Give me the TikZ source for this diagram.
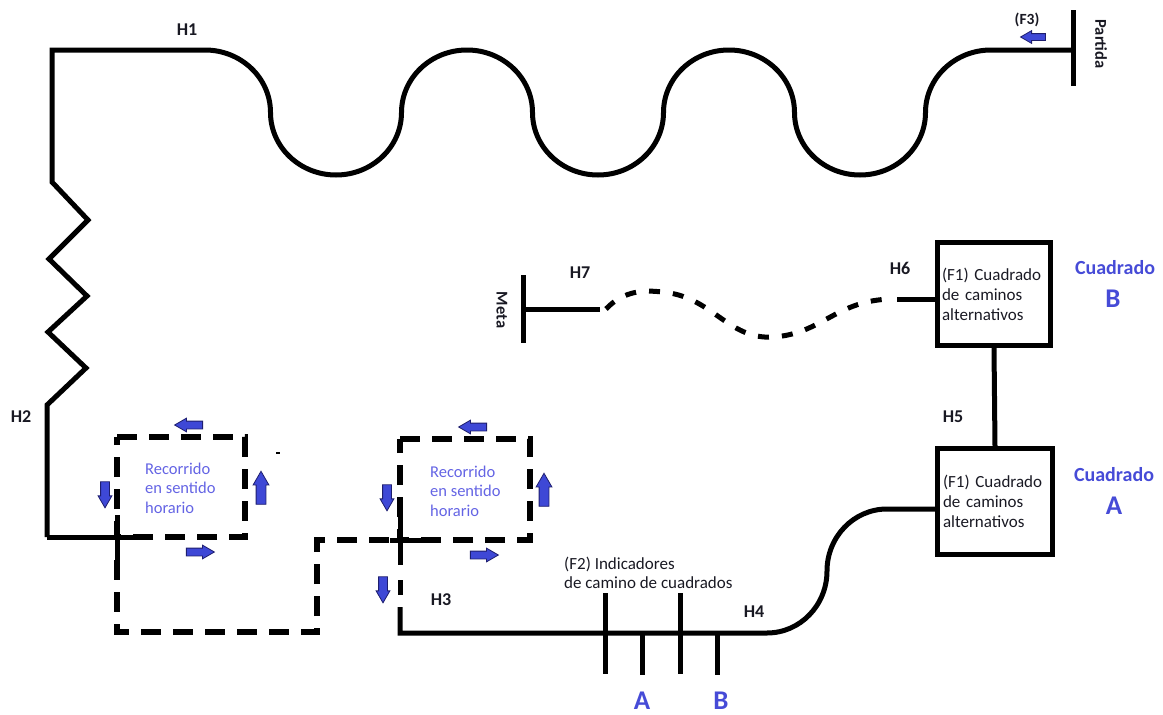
\documentclass[tikz,border=0pt]{standalone}
\usepackage{fontspec}
\setmainfont{Carlito}
\usetikzlibrary{shapes.arrows}
\definecolor{arrfill}{RGB}{62,72,214}
\definecolor{arredge}{RGB}{30,30,110}
\definecolor{bluetxt}{RGB}{100,100,228}
\definecolor{bluelbl}{RGB}{70,75,215}
\definecolor{darktxt}{RGB}{25,25,35}
\begin{document}
\begin{tikzpicture}[x=1pt,y=-1pt,
  road/.style={line width=5pt, line join=miter},
  dashroad/.style={line width=5.5pt, dash pattern=on 20pt off 12pt},
  wavedash/.style={line width=5pt, dash pattern=on 11pt off 13pt},
  hlabel/.style={font=\fontsize{18}{20}\selectfont\bfseries, text=darktxt, inner sep=0pt},
  vlabel/.style={font=\fontsize{16.5}{19}\selectfont\bfseries, text=darktxt, inner sep=0pt, rotate=-90},
  desc/.style={font=\fontsize{17}{19.5}\selectfont, text=darktxt, inner sep=0pt, align=left},
  rec/.style={font=\fontsize{16.5}{19.5}\selectfont, text=bluetxt, inner sep=0pt, align=left, anchor=west},
  cuad/.style={font=\fontsize{20}{22}\selectfont\bfseries, text=bluelbl, inner sep=0pt},
  biglet/.style={font=\fontsize{27}{30}\selectfont\bfseries, text=bluelbl, inner sep=0pt},
  box/.style={draw, line width=5pt, inner sep=0pt, text width=104pt, align=left,
    font=\fontsize{17}{20}\selectfont, text=darktxt},
  blk/.style={single arrow, draw=arredge, fill=arrfill, line width=0.8pt,
    minimum height=28pt, inner xsep=0pt, inner ysep=3.5pt,
    single arrow head extend=3pt, single arrow head indent=0pt,
    single arrow tip angle=60},
  blkup/.style={blk, minimum height=33pt, inner ysep=4.5pt, single arrow head extend=3pt, rotate=90},
  blkdown/.style={blk, minimum height=26pt, inner ysep=4pt, single arrow head extend=2.5pt, rotate=-90},
  blkleft/.style={blk, rotate=180},
  blkright/.style={blk}
]
\useasboundingbox (0,0) rectangle (1163,715);

% boxes
\node[box, minimum width=113pt, minimum height=103pt] (boxB) at (994,294)
  {(F1) Cuadrado\\de caminos\\alternativos};
\node[box, minimum width=115pt, minimum height=106pt] (boxA) at (995,501.5)
  {(F1) Cuadrado\\de caminos\\alternativos};

% start T (Partida)
\coordinate (pTop) at (1073,10);
\coordinate (pBot) at (1073,86);
\coordinate (pMid) at (1073,50);
\draw[road] (pTop) -- (pBot);

% main road: H2 zigzag + H1 waves
\coordinate (c0) at (47,537);
\draw[road] (c0) -- (47,405) -- (86,368) -- (48,332) -- (87,296) -- (49,259)
  -- (88,220) -- (52,182) -- (52,50) -- (205,50)
  arc[start angle=90,end angle=0,x radius=65.5pt,y radius=62.5pt]
  arc[start angle=180,end angle=360,x radius=65.5pt,y radius=62.5pt]
  arc[start angle=180,end angle=0,x radius=65.5pt,y radius=62.5pt]
  arc[start angle=180,end angle=360,x radius=65.5pt,y radius=62.5pt]
  arc[start angle=180,end angle=0,x radius=65.5pt,y radius=62.5pt]
  arc[start angle=180,end angle=360,x radius=65.5pt,y radius=62.5pt]
  arc[start angle=180,end angle=90,x radius=65.5pt,y radius=62.5pt]
  -- (pMid);

% first clockwise loop
\draw[dashroad] (117,437) -- (245,437) -- (245,537) -- (117,537) -- cycle;
\draw[road] (c0) -- (147,537);
\draw[road] (117,515) -- (117,560);
\draw[dashroad] (117,560) -- (117,632) -- (317,632) -- (317,540) -- (400,540);
\draw[line width=1.2pt] (276,453) -- (280,453);

% second clockwise loop
\draw[dashroad] (400,439) -- (530,439) -- (530,540) -- (400,540) -- cycle;
\draw[road] (390,540) -- (433,540);
\draw[road] (400,505) -- (400,565);
\draw[road] (400,580) -- (400,595);

% H3 / H4 to box A
\coordinate (sA) at (887,509);
\draw[road] (400,607) -- (400,633) -- (767,633)
  arc[start angle=270,end angle=360,x radius=60pt,y radius=62pt]
  arc[start angle=180,end angle=90,x radius=60pt,y radius=62pt]
  -- (sA -| boxA.west);

% indicators
\draw[road] (605,593) -- (605,674);
\draw[road] (642,633) -- (642,675);
\draw[road] (680,593) -- (680,674);
\draw[road] (717,633) -- (717,675);

% H5
\draw[road] (boxB.south) -- (boxA.north);

% H6 / H7
\coordinate (h6s) at (897,299);
\draw[road] (h6s) -- (h6s -| boxB.west);
\coordinate (mTop) at (523,275);
\coordinate (mBot) at (523,343);
\coordinate (mMid) at (523,309);
\coordinate (mEnd) at (600,309);
\draw[road] (mTop) -- (mBot);
\draw[road] (mMid) -- (mEnd);
\coordinate (w0) at (606,309);
\coordinate (w1) at (662,292);
\coordinate (w2) at (773,337);
\coordinate (w3) at (892,299);
\draw[wavedash] (w0) .. controls (624,290) and (645,290) .. (w1)
  .. controls (712,296) and (728,340) .. (w2)
  .. controls (822,334) and (836,300) .. (w3);

% blue arrows
\node[blkleft]  (a1t) at (192,425) {};
\node[blkdown]  (a1l) at (105,491) {};
\node[blkup]    (a1r) at (261,492) {};
\node[blkright] (a1b) at (197,552) {};
\node[blkleft]  (a2t) at (476,427) {};
\node[blkdown]  (a2l) at (387,494) {};
\node[blkup]    (a2r) at (544,494) {};
\node[blkright] (a2b) at (481,555) {};
\node[blkdown]  (a3d) at (383,586) {};
\node[blkleft, minimum height=25pt, inner ysep=3pt] (af3) at (1036,37) {};

% labels
\node[hlabel] (lh1) at (187,30) {H1};
\node[hlabel] (lh2) at (21,417) {H2};
\node[hlabel] (lh3) at (441,600) {H3};
\node[hlabel] (lh4) at (754,612) {H4};
\node[hlabel] (lh5) at (953,417) {H5};
\node[hlabel] (lh6) at (900,268) {H6};
\node[hlabel] (lh7) at (580,273) {H7};
\node[hlabel, font=\fontsize{15.5}{18}\selectfont\bfseries] (lf3) at (1027,20) {(F3)};
\node[vlabel] (lpart) at (1101,44) {Partida};
\node[vlabel] (lmeta) at (502,310) {Meta};

\node[rec] (r1) at (145,488) {Recorrido\\en sentido\\horario};
\node[rec] (r2) at (430,491) {Recorrido\\en sentido\\horario};

\node[desc, anchor=west] (f2) at (564,573) {(F2) Indicadores\\de camino de cuadrados};

\node[cuad] (cB) at (1115,268) {Cuadrado};
\node[biglet] (cBl) at (1113,299) {B};
\node[cuad] (cA) at (1114,475) {Cuadrado};
\node[biglet] (cAl) at (1114,506) {A};
\node[biglet] (iA) at (642,701) {A};
\node[biglet] (iB) at (721,701) {B};
\end{tikzpicture}
\end{document}
